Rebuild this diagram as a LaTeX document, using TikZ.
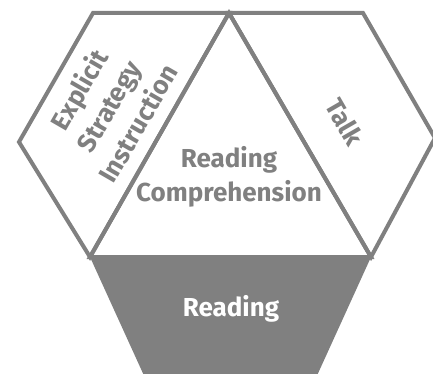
\documentclass[tikz,border=0pt]{standalone}
\usepackage{fontspec}
\setmainfont{Fira Sans}
\definecolor{hexgray}{RGB}{128,128,128}
\begin{document}
\begin{tikzpicture}[x=1pt,y=-1pt,
  edge/.style={draw=hexgray,line width=4pt,line join=miter},
  basefill/.style={fill=hexgray},
  lbl/.style={text=hexgray,font=\fontsize{26}{34}\selectfont\bfseries,align=center,inner sep=0pt},
  wlbl/.style={text=white,font=\fontsize{26}{34}\selectfont\bfseries,align=center,inner sep=0pt}]
\fill[white] (0,0) rectangle (433,374);
\useasboundingbox (0,0) rectangle (433,374);
\clip (0,0) rectangle (433,374);
% vertices
\coordinate (TL) at (93,13);
\coordinate (AP) at (229,13);
\coordinate (TR) at (363,13);
\coordinate (LV) at (19,142);
\coordinate (RV) at (435,138);
\coordinate (BL) at (90,257);
\coordinate (BR) at (371,257);
\coordinate (DL) at (146,380);
\coordinate (DR) at (315,380);
% bottom trapezoid
\path[basefill] (BL) -- (BR) -- (DR) -- (DL) -- cycle;
% outlines
\draw[edge] (TL) -- (AP) -- (BL) -- (LV) -- cycle;
\draw[edge] (AP) -- (TR) -- (RV) -- (BR) -- cycle;
\draw[edge] (AP) -- (BR) -- (BL) -- cycle;
% labels
\node[lbl] (rc) at (229,177) {Reading\\Comprehension};
\node[wlbl] (rd) at (231,309) {Reading};
\node[lbl,rotate=-60] (tk) at (345,122) {Talk};
\node[lbl,rotate=60] (esi) at (108,106) {Explicit\\Strategy\\Instruction};
\end{tikzpicture}
\end{document}
